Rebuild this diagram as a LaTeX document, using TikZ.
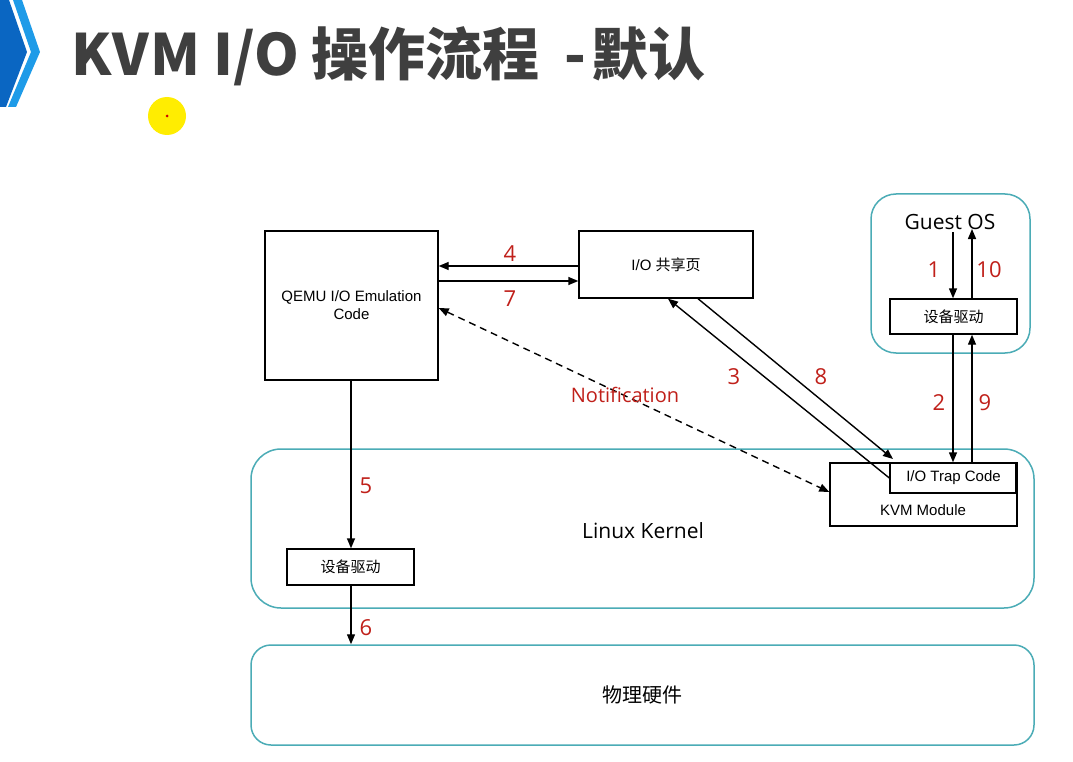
\documentclass[tikz,border=0pt]{standalone}
\usepackage{fontspec}
\setmainfont{Liberation Sans}
\newfontfamily\cjk{Noto Sans CJK SC}
\newfontfamily\segoe{Open Sans}
\usetikzlibrary{arrows.meta}
\definecolor{teal1}{HTML}{4BACB6}
\definecolor{lblred}{HTML}{C0201A}
\definecolor{titlegray}{HTML}{3F3F3F}
\definecolor{darkblue}{HTML}{0A66C2}
\definecolor{lightblue}{HTML}{1E9BE8}
\tikzset{
  box/.style={draw=black, line width=1.4pt, fill=white, inner sep=0pt, align=center, font=\fontsize{15}{18}\selectfont},
  roundbox/.style={draw=teal1, line width=1.5pt, inner sep=0pt, align=center},
  arr/.style={line width=1.4pt, -{Triangle[length=10pt,width=8pt]}},
  num/.style={text=lblred, font=\segoe\fontsize{22}{24}\selectfont, inner sep=0pt},
}
\begin{document}
\begin{tikzpicture}[x=1pt,y=-1pt]
\useasboundingbox (0,0) rectangle (1073,762);
\fill[white] (0,0) rectangle (1073,762);
% chevron
\fill[darkblue] (0,0) -- (9,0) -- (27,52) -- (6,107) -- (0,107) -- cycle;
\fill[lightblue] (13,0) -- (22,0) -- (40,52) -- (16,107) -- (8,107) -- (31,52) -- cycle;
% title
\node[anchor=base west, inner sep=0pt, text=titlegray, font=\cjk\bfseries\fontsize{57}{60}\selectfont] (title) at (71,76) {K\kern1ptV\kern1ptM I/O\kern12pt 操作流程\kern25pt-\kern5pt 默认};
% pointer
\fill[yellow!95!orange] (167,116) circle (19);
\fill[red!80!black] (167,116) circle (1.5);
% big rounded boxes
\node[roundbox, minimum width=783, minimum height=159, rounded corners=30pt] (kernel) at (642.5,528.5) {};
\node[inner sep=0pt, font=\segoe\fontsize{21}{24}\selectfont] (kernellbl) at (643,531) {Linux Kernel};
\node[roundbox, minimum width=783, minimum height=100, rounded corners=20pt, font=\cjk\fontsize{20}{24}\selectfont] (hw) at (642.5,695) {物理硬件};
\node[roundbox, minimum width=159, minimum height=159, rounded corners=25pt] (guest) at (950.5,273.5) {};
\node[inner sep=0pt, font=\segoe\fontsize{21}{24}\selectfont] (guestlbl) at (950,222) {Guest OS};
% boxes
\node[box, minimum width=173, minimum height=149] (qemu) at (351.5,305.5) {QEMU I/O Emulation\\Code};
\node[box, minimum width=174, minimum height=67] (share) at (666,264.5) {I/O {\cjk 共享页}};
\node[box, minimum width=127, minimum height=35, font=\cjk\fontsize{15}{18}\selectfont] (gdrv) at (953.5,316.5) {设备驱动};
\node[box, minimum width=127, minimum height=36, font=\cjk\fontsize{15}{18}\selectfont] (hdrv) at (350.5,567) {设备驱动};
\node[box, minimum width=187, minimum height=63] (kvm) at (923.5,494.5) {};
\node[inner sep=0pt, font=\fontsize{15}{18}\selectfont] (kvmlbl) at (923,510) {KVM Module};
\node[box, minimum width=127, minimum height=30] (trap) at (953.5,478) {I/O Trap Code};
\draw[line width=2.6pt] ([xshift=-1pt]trap.north east) -- ([xshift=-1pt]trap.south east);
% free end coordinates
\coordinate (g1) at (953,232);
\coordinate (g10) at (972,229);
\coordinate (a8) at (893,459);
% arrows
\draw[arr] (g1) -- (gdrv.north -| g1);
\draw[arr] (gdrv.north -| g10) -- (g10);
\draw[arr] (gdrv.south -| g1) -- (trap.north -| g1);
\draw[arr] (trap.north -| g10) -- (gdrv.south -| g10);
\draw[arr] (share.west |- 0,266) -- (qemu.east |- 0,266);
\draw[arr] (qemu.east |- 0,281) -- (share.west |- 0,281);
\draw[arr] (trap.west) -- (share.south -| 668,0);
\draw[arr] (share.south -| 698,0) -- (a8);
\draw[line width=1.4pt, dash pattern=on 7pt off 5pt, {Triangle[length=10pt,width=8pt]}-{Triangle[length=10pt,width=8pt]}] (qemu.east |- 0,308) -- (kvm.west |- 0,492);
\draw[arr] (qemu.south -| 351,0) -- (hdrv.north -| 351,0);
\draw[arr] (hdrv.south -| 351,0) -- (hw.north -| 351,0);
% labels
\node[num] (l4) at (510,254) {4};
\node[num] (l7) at (510,299) {7};
\node[num] (l3) at (734,377) {3};
\node[num] (l8) at (821,377) {8};
\node[num] (l1) at (934,270) {1};
\node[num] (l10) at (989,270) {10};
\node[num] (l2) at (939,403) {2};
\node[num] (l9) at (985,403) {9};
\node[num] (l5) at (366,486) {5};
\node[num] (l6) at (366,628) {6};
\node[num, font=\segoe\fontsize{20}{24}\selectfont] (notif) at (625,395) {Notification};
\end{tikzpicture}
\end{document}
